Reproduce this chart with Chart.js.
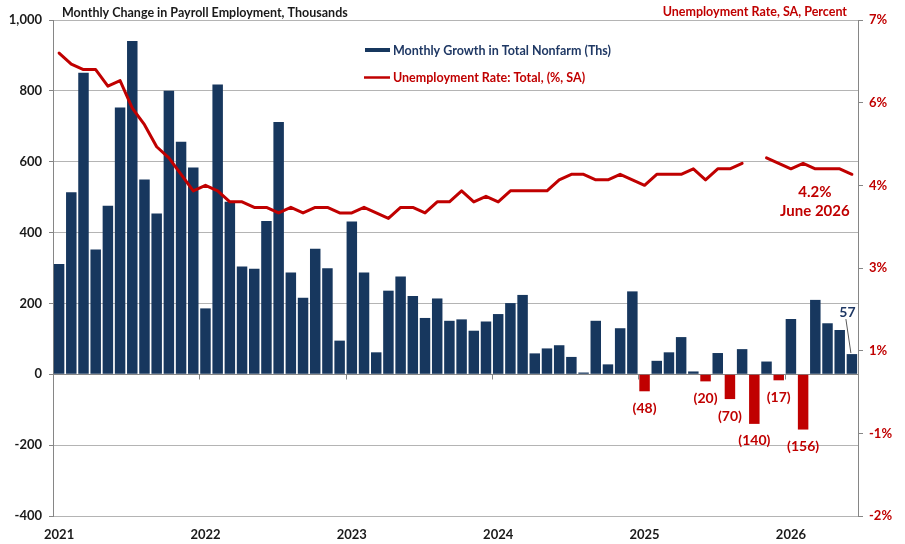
<!DOCTYPE html>
<html><head><meta charset="utf-8">
<script src="https://cdn.jsdelivr.net/npm/chart.js@4/dist/chart.umd.min.js"></script>
<style>html,body{margin:0;padding:0;background:#fff;}#wrap{width:905px;height:544px;position:relative;}</style>
</head><body><div id="wrap"><canvas id="c" width="905" height="544"></canvas></div>
<script>
// ---- data ----
const years = [2021, 2022, 2023, 2024, 2025, 2026];
const monthNames = ['Jan','Feb','Mar','Apr','May','Jun','Jul','Aug','Sep','Oct','Nov','Dec'];
const lastMonthCount = 6; // 2026 runs Jan..Jun
const categories = [];
years.forEach((yr, k) => {
  const n = k === years.length - 1 ? lastMonthCount : 12;
  for (let m = 0; m < n; m++) categories.push(monthNames[m] + ' ' + yr);
});

// Monthly growth in total nonfarm payrolls (thousands)
const payrollChange = [
  311, 514, 851, 352, 476, 753, 941, 550, 454, 800, 656, 584,   // 2021
  186, 818, 487, 304, 298, 433, 712, 287, 216, 354, 299, 95,    // 2022
  431, 287, 62, 236, 276, 221, 159, 214, 151, 155, 123, 149,    // 2023
  170, 201, 224, 59, 73, 82, 49, 5, 151, 28, 130, 234,          // 2024
  -48, 38, 62, 105, 8, -20, 60, -70, 71, -140, 36, -17,         // 2025
  156, -156, 210, 144, 125, 57                                  // 2026
];

// Unemployment rate, SA, percent (Oct 2025 not published)
const unemploymentRate = [
  6.4, 6.2, 6.1, 6.1, 5.8, 5.9, 5.4, 5.1, 4.7, 4.5, 4.2, 3.9,
  4.0, 3.9, 3.7, 3.7, 3.6, 3.6, 3.5, 3.6, 3.5, 3.6, 3.6, 3.5,
  3.5, 3.6, 3.5, 3.4, 3.6, 3.6, 3.5, 3.7, 3.7, 3.9, 3.7, 3.8,
  3.7, 3.9, 3.9, 3.9, 3.9, 4.1, 4.2, 4.2, 4.1, 4.1, 4.2, 4.1,
  4.0, 4.2, 4.2, 4.2, 4.3, 4.1, 4.3, 4.3, 4.4, null, 4.5, 4.4,
  4.3, 4.4, 4.3, 4.3, 4.3, 4.2
];

const leftAxisRange = [-400, 1000, 200];
const rightAxisRange = [-2, 7, 1.5];

const titleLeft = 'Monthly Change in Payroll Employment, Thousands';
const titleRight = 'Unemployment Rate, SA, Percent';
const seriesNames = ['Monthly Growth in Total Nonfarm (Ths)', 'Unemployment Rate: Total, (%, SA)'];
const latestNote = ['4.2%', 'June 2026'];

// ---- style ----
const NAVY = '#17375e';
const NAVY_TEXT = '#1f3864';
const RED = '#c00000';
const GRID = '#b4b4b4';
const AXIS = '#868686';
const FONT = "Lato, 'Open Sans', sans-serif";

const overlay = {
  id: 'overlay',
  beforeDatasetsDraw(chart) {
    const { ctx, chartArea: a, scales: { x, y } } = chart;
    const y0 = Math.round(y.getPixelForValue(0)) + 0.5;
    ctx.save();
    ctx.strokeStyle = AXIS; ctx.lineWidth = 1;
    ctx.beginPath();
    ctx.moveTo(a.left, y0); ctx.lineTo(a.right, y0);
    for (let i = 1; i < categories.length; i++) {
      if (categories[i].startsWith('Jan')) {
        const xb = Math.round((x.getPixelForValue(i - 1) + x.getPixelForValue(i)) / 2) + 0.5;
        ctx.moveTo(xb, y0); ctx.lineTo(xb, y0 + 5);
      }
    }
    ctx.stroke();
    ctx.restore();
  },
  afterDatasetsDraw(chart) {
    const { ctx, chartArea: a, scales: { x, y, y1 } } = chart;
    const bars = chart.getDatasetMeta(1).data;
    ctx.save();
    // negative bar labels
    ctx.font = 'bold 14px ' + FONT;
    ctx.textAlign = 'center'; ctx.textBaseline = 'middle';
    ctx.fillStyle = RED;
    payrollChange.forEach((v, i) => {
      if (v < 0) {
        const b = bars[i];
        ctx.fillText('(' + (-v) + ')', b.x, y.getPixelForValue(v) + 17);
      }
    });
    // last value label with leader line
    const li = payrollChange.length - 1;
    const lb = bars[li];
    const top = y.getPixelForValue(payrollChange[li]);
    ctx.strokeStyle = '#595959'; ctx.lineWidth = 1;
    ctx.beginPath(); ctx.moveTo(lb.x - 6, top - 35); ctx.lineTo(lb.x - 1, top - 1); ctx.stroke();
    ctx.fillStyle = NAVY_TEXT;
    ctx.fillText(String(payrollChange[li]), lb.x - 4.5, top - 42);
    // latest unemployment note
    const lu = unemploymentRate[unemploymentRate.length - 1];
    const ly = y1.getPixelForValue(lu);
    ctx.font = 'bold 15px ' + FONT;
    ctx.fillStyle = RED;
    ctx.fillText(latestNote[0], lb.x - 37, ly + 18);
    ctx.fillText(latestNote[1], lb.x - 37, ly + 37);
    // titles
    ctx.font = 'bold 12.5px ' + FONT;
    ctx.textBaseline = 'alphabetic';
    ctx.textAlign = 'left'; ctx.fillStyle = '#1a1a1a';
    ctx.fillText(titleLeft, a.left + 9, a.top - 3);
    ctx.textAlign = 'right'; ctx.fillStyle = RED;
    ctx.fillText(titleRight, a.right - 11, a.top - 4);
    // legend
    const lx = a.left + 312;
    ctx.fillStyle = NAVY;
    ctx.fillRect(lx, a.top + 28, 25, 4);
    ctx.strokeStyle = RED; ctx.lineWidth = 2.5;
    ctx.beginPath(); ctx.moveTo(lx - 1, a.top + 57.5); ctx.lineTo(lx + 25, a.top + 57.5); ctx.stroke();
    ctx.font = 'bold 12.5px ' + FONT;
    ctx.textAlign = 'left'; ctx.textBaseline = 'middle';
    ctx.fillStyle = NAVY_TEXT;
    ctx.fillText(seriesNames[0], lx + 28, a.top + 31);
    ctx.fillStyle = RED;
    ctx.fillText(seriesNames[1], lx + 28, a.top + 58);
    ctx.restore();
  }
};

new Chart(document.getElementById('c'), {
  data: {
    labels: categories,
    datasets: [
      {
        type: 'line', label: seriesNames[1], data: unemploymentRate, yAxisID: 'y1',
        borderColor: RED, borderWidth: 3, pointRadius: 0, tension: 0, spanGaps: false,
        borderJoinStyle: 'round', borderCapStyle: 'round', order: 1
      },
      {
        type: 'bar', label: seriesNames[0], data: payrollChange, yAxisID: 'y',
        backgroundColor: c => (c.raw < 0 ? RED : NAVY),
        barPercentage: 0.86, categoryPercentage: 1.0, order: 2
      }
    ]
  },
  options: {
    responsive: false, animation: false, devicePixelRatio: 1,
    layout: { padding: { top: 20, left: 0, right: 0, bottom: 0 } },
    plugins: { legend: { display: false }, tooltip: { enabled: false }, title: { display: false } },
    scales: {
      x: {
        type: 'category', offset: true,
        grid: { display: false, drawTicks: false }, border: { display: false },
        ticks: {
          autoSkip: false, maxRotation: 0, minRotation: 0, padding: 11,
          color: '#1a1a1a', font: { family: FONT, size: 13, weight: 'bold' },
          callback: (v, i) => categories[i].startsWith('Jan') ? categories[i].slice(4) : ''
        },
        afterFit: s => { s.height = 28; }
      },
      y: {
        position: 'left', min: leftAxisRange[0], max: leftAxisRange[1],
        ticks: { stepSize: leftAxisRange[2], padding: 7, color: '#1a1a1a', font: { family: FONT, size: 13, weight: 'bold' } },
        grid: { color: GRID, lineWidth: 1, tickLength: 4, tickColor: AXIS },
        border: { color: AXIS },
        afterFit: s => { s.width = 53; }
      },
      y1: {
        position: 'right', min: rightAxisRange[0], max: rightAxisRange[1],
        ticks: {
          stepSize: rightAxisRange[2], padding: 6, color: RED, font: { family: FONT, size: 13, weight: 'bold' },
          callback: v => (v < 0 ? '-' : '') + Math.round(Math.abs(v)) + '%'
        },
        grid: { drawOnChartArea: false, tickLength: 5, tickColor: AXIS },
        border: { color: AXIS },
        afterFit: s => { s.width = 47; }
      }
    }
  },
  plugins: [overlay]
});
</script></body></html>
